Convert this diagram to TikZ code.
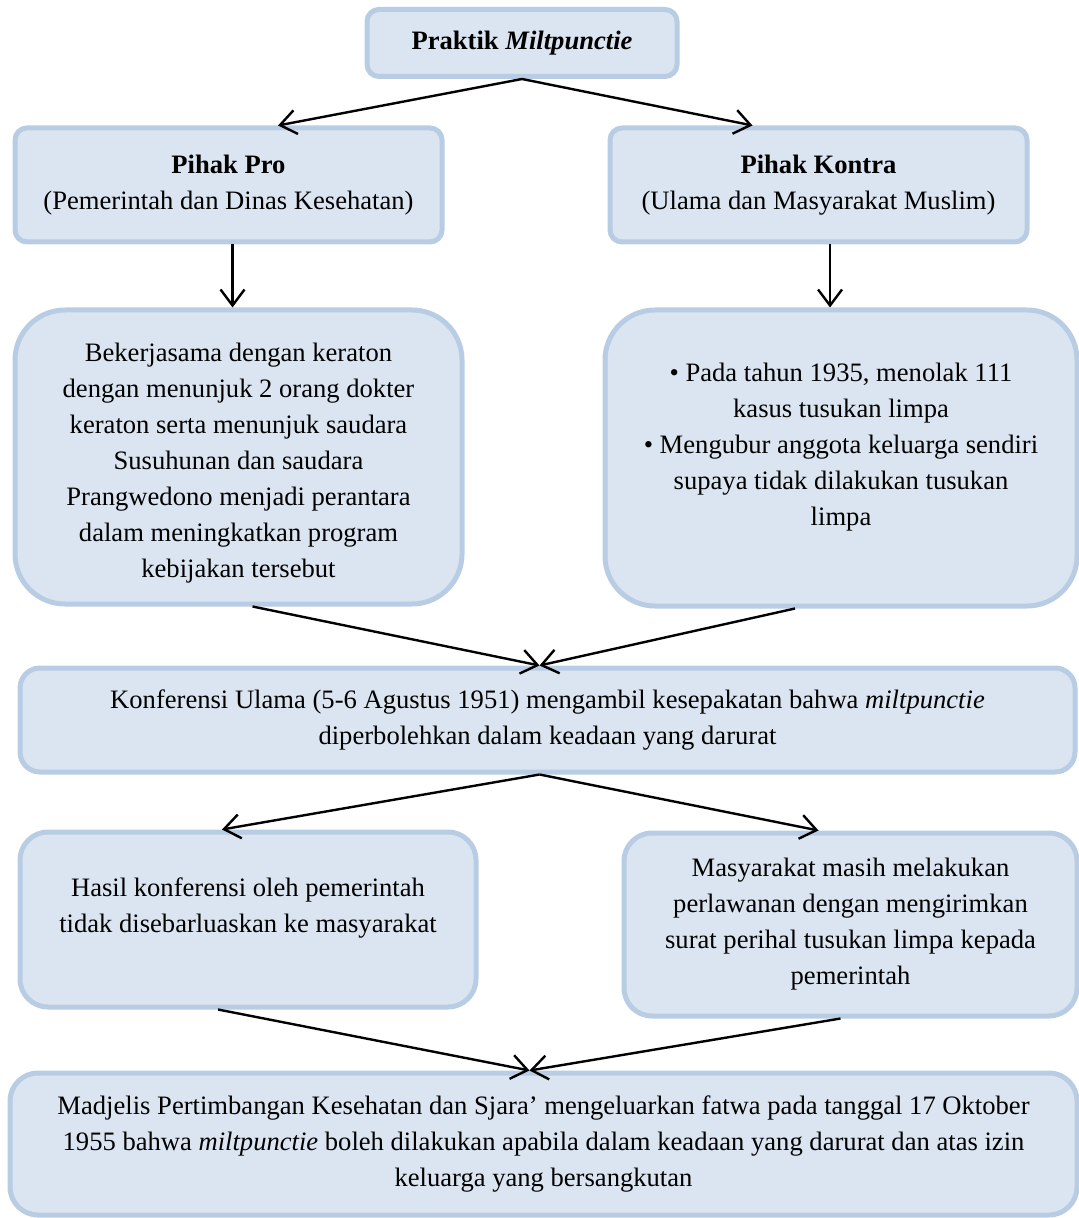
\documentclass[tikz,border=0pt]{standalone}
\usepackage{fontspec}
\setmainfont{Liberation Serif}
\usetikzlibrary{arrows.meta}

\definecolor{boxfill}{HTML}{DBE5F1}
\definecolor{boxline}{HTML}{B8CCE4}

\begin{document}
\begin{tikzpicture}[
  x=0.5pt, y=-0.5pt,
  box/.style={draw=boxline, fill=boxfill, line width=2.5pt, rounded corners=6pt,
    align=center, font=\fontsize{13.3}{18}\selectfont, inner sep=2pt},
  bigbox/.style={box, rounded corners=25pt},
  link/.style={-{Straight Barb[length=8pt, width=12pt]}, line width=1.2pt}
]
\useasboundingbox (0,0) rectangle (1079,1218);

\node[box, minimum width=155pt, minimum height=33.5pt] (praktik) at (522,43)
  {\textbf{Praktik \textit{Miltpunctie}}};
\node[box, minimum width=213.5pt, minimum height=57pt] (pro) at (228.5,185)
  {\textbf{Pihak Pro}\\(Pemerintah dan Dinas Kesehatan)};
\node[box, minimum width=208.5pt, minimum height=57pt] (kontra) at (818.5,185)
  {\textbf{Pihak Kontra}\\(Ulama dan Masyarakat Muslim)};
\node[bigbox, minimum width=223.5pt, minimum height=147pt] (kerjasama) at (238.5,457)
  {\mbox{}\\[-3pt]Bekerjasama dengan keraton\\dengan menunjuk 2 orang dokter\\keraton serta menunjuk saudara\\Susuhunan dan saudara\\Prangwedono menjadi perantara\\dalam meningkatkan program\\kebijakan tersebut};
\node[bigbox, minimum width=236pt, minimum height=148pt] (menolak) at (841,458)
  {\textbullet{} Pada tahun 1935, menolak 111\\kasus tusukan limpa\\\textbullet{} Mengubur anggota keluarga sendiri\\supaya tidak dilakukan tusukan\\limpa\\[-4pt]\mbox{}};
\node[box, rounded corners=10pt, minimum width=527.5pt, minimum height=52pt] (konferensi) at (547.5,720)
  {Konferensi Ulama (5-6 Agustus 1951) mengambil kesepakatan bahwa \textit{miltpunctie}\\diperbolehkan dalam keadaan yang darurat};
\node[box, rounded corners=14pt, minimum width=228pt, minimum height=87.5pt] (hasil) at (248,919.5)
  {Hasil konferensi oleh pemerintah\\tidak disebarluaskan ke masyarakat\\[-4pt]\mbox{}};
\node[box, rounded corners=14pt, minimum width=226.5pt, minimum height=91.5pt] (perlawanan) at (850.5,924.5)
  {Masyarakat masih melakukan\\perlawanan dengan mengirimkan\\surat perihal tusukan limpa kepada\\pemerintah};
\node[box, rounded corners=14pt, minimum width=533.5pt, minimum height=71pt] (fatwa) at (543.5,1144)
  {Madjelis Pertimbangan Kesehatan dan Sjara’ mengeluarkan fatwa pada tanggal 17 Oktober\\1955 bahwa \textit{miltpunctie} boleh dilakukan apabila dalam keadaan yang darurat dan atas izin\\keluarga yang bersangkutan};

\draw[link] (praktik.south) -- ([xshift=24.75pt]pro.north);
\draw[link] (praktik.south) -- ([xshift=-33pt]kontra.north);
\draw[link] ([xshift=2pt]pro.south) -- ([xshift=2pt]pro.south |- kerjasama.north);
\draw[link] ([xshift=5.75pt]kontra.south) -- ([xshift=5.75pt]kontra.south |- menolak.north);
\draw[link] ([xshift=7pt]kerjasama.south) -- ([xshift=-4pt]konferensi.north);
\draw[link] ([xshift=-23pt]menolak.south) -- ([xshift=-4pt]konferensi.north);
\draw[link] ([xshift=-4pt]konferensi.south) -- ([xshift=-13pt]hasil.north);
\draw[link] ([xshift=-4pt]konferensi.south) -- ([xshift=-16pt]perlawanan.north);
\draw[link] ([xshift=-15pt]hasil.south) -- ([xshift=-7pt]fatwa.north);
\draw[link] ([xshift=-5pt]perlawanan.south) -- ([xshift=-7pt]fatwa.north);
\end{tikzpicture}
\end{document}
